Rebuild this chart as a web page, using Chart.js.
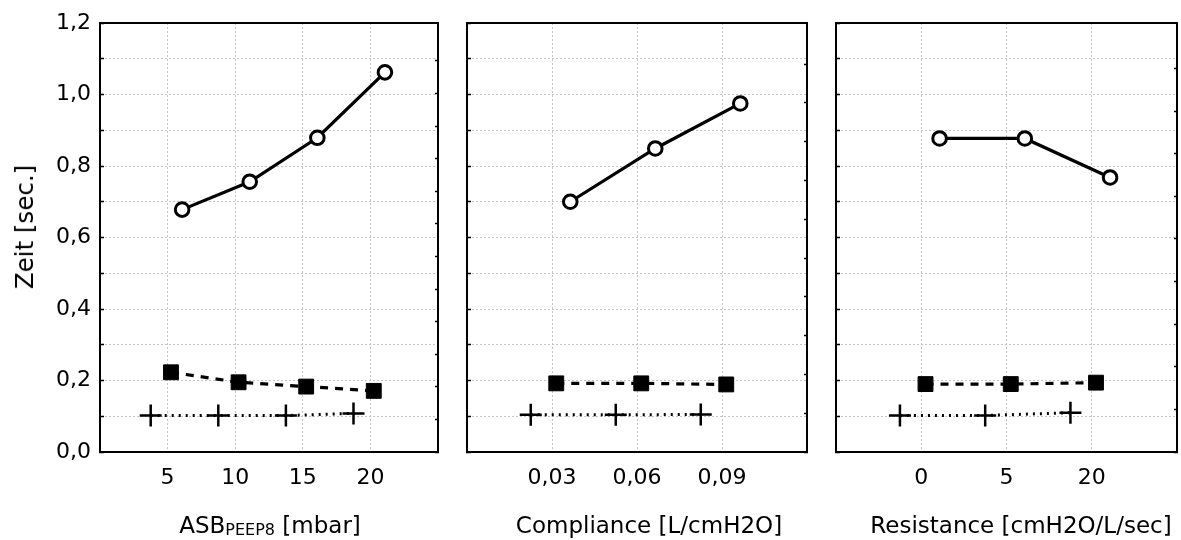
<!DOCTYPE html>
<html>
<head>
<meta charset="utf-8">
<script src="https://cdn.jsdelivr.net/npm/chart.js@4.4.1/dist/chart.umd.min.js"></script>
<style>
  body { margin: 0; background: #fff; width: 1181px; height: 540px; overflow: hidden; position: relative; font-family: "DejaVu Sans", Verdana, sans-serif; color: #000; }
  canvas { position: absolute; top: 0; }
  .xtitle { position: absolute; top: 514px; font-size: 23px; line-height: 23px; white-space: nowrap; transform: translateX(-50%); }
  .xtitle span { font-size: 16px; vertical-align: -2px; }
  .ytitle { position: absolute; left: 25px; top: 227px; font-size: 24.5px; line-height: 24px; white-space: nowrap; transform: translate(-50%, -50%) rotate(-90deg); }
</style>
</head>
<body>
<canvas id="asbChart" width="445" height="540" style="left:0px"></canvas>
<canvas id="complianceChart" width="370" height="540" style="left:445px"></canvas>
<canvas id="resistanceChart" width="366" height="540" style="left:815px"></canvas>
<div class="ytitle">Zeit [sec.]</div>
<div class="xtitle" style="left:270px">ASB<span>PEEP8</span> [mbar]</div>
<div class="xtitle" style="left:649px">Compliance [L/cmH2O]</div>
<div class="xtitle" style="left:1021px">Resistance [cmH2O/L/sec]</div>
<script>
// tick labels of the three panels
const asbLabels = ["5", "10", "15", "20"];
const complianceLabels = ["0,03", "0,06", "0,09"];
const resistanceLabels = ["0", "5", "20"];

// Zeit [sec.] per setting: circles (solid), squares (dashed), crosses (dotted)
const asbCircles = [0.678, 0.756, 0.879, 1.062];
const asbSquares = [0.223, 0.195, 0.183, 0.171];
const asbCrosses = [0.102, 0.102, 0.102, 0.108];

const complianceCircles = [0.700, 0.849, 0.975];
const complianceSquares = [0.192, 0.192, 0.189];
const complianceCrosses = [0.104, 0.104, 0.105];

const resistanceCircles = [0.877, 0.877, 0.768];
const resistanceSquares = [0.190, 0.190, 0.194];
const resistanceCrosses = [0.102, 0.102, 0.110];

Chart.defaults.font.family = "'DejaVu Sans', Verdana, sans-serif";
Chart.defaults.color = "#000";

const gridGrey = "#c4c4c4";

function toPoints(values, shift) {
    return values.map((v, i) => ({ x: i + 1 + shift, y: v }));
}

// pin each axis box so the plot frames land where the reference has them
function pin(s, w, h) {
    if (w !== null) s.width = w;
    if (h !== null) s.height = h;
    s.paddingLeft = 0;
    s.paddingRight = 0;
    s.paddingTop = 0;
    s.paddingBottom = 0;
}

function makePanel(id, labels, circles, squares, crosses, leftW, rightW, rightMax, showY) {
    let ctx = document.getElementById(id).getContext("2d");
    new Chart(ctx, {
        type: "line",
        data: {
            datasets: [
                {
                    data: toPoints(circles, 0.215),
                    borderColor: "#000",
                    borderWidth: 3.2,
                    pointStyle: "circle",
                    pointRadius: 6.8,
                    pointBorderWidth: 3,
                    pointBackgroundColor: "#fff",
                    pointBorderColor: "#000"
                },
                {
                    data: toPoints(squares, 0.05),
                    borderColor: "#000",
                    borderWidth: 3.2,
                    borderDash: [8, 7],
                    pointStyle: "rect",
                    pointRadius: 10.5,
                    pointBorderWidth: 1,
                    pointBackgroundColor: "#000",
                    pointBorderColor: "#000"
                },
                {
                    data: toPoints(crosses, -0.25),
                    borderColor: "#000",
                    borderWidth: 3,
                    borderDash: [2, 5],
                    pointStyle: "cross",
                    pointRadius: 11,
                    pointBorderWidth: 2.5,
                    pointBorderColor: "#000"
                }
            ]
        },
        options: {
            responsive: false,
            animation: false,
            devicePixelRatio: 1,
            layout: { padding: 0, autoPadding: false },
            plugins: { legend: { display: false }, tooltip: { enabled: false } },
            scales: {
                x: {
                    type: "linear",
                    position: "bottom",
                    min: 0,
                    max: labels.length + 1,
                    ticks: {
                        stepSize: 1,
                        autoSkip: false,
                        maxRotation: 0,
                        padding: 13,
                        font: { size: 22 },
                        callback: v => labels[v - 1] ?? ""
                    },
                    grid: { color: gridGrey, drawTicks: false },
                    border: { color: "#000", width: 2, dash: [2, 2] },
                    afterFit: s => pin(s, null, 88)
                },
                x2: {
                    type: "linear",
                    position: "top",
                    min: 0,
                    max: 1,
                    ticks: { display: false },
                    grid: { display: false, drawTicks: false },
                    border: { color: "#000", width: 2 },
                    afterFit: s => pin(s, null, 23)
                },
                y: {
                    min: 0,
                    max: 1.2,
                    ticks: {
                        display: showY,
                        stepSize: 0.1,
                        padding: 13,
                        font: { size: 22 },
                        callback: v => {
                            let n = Math.round(v * 10);
                            return n % 2 ? "" : (n / 10).toFixed(1).replace(".", ",");
                        }
                    },
                    grid: { color: gridGrey, tickColor: "#000", tickLength: -4, tickWidth: 1.5 },
                    border: { color: "#000", width: 2, dash: [2, 2] },
                    afterFit: s => pin(s, leftW, null)
                },
                y2: {
                    position: "right",
                    min: 0,
                    max: rightMax,
                    ticks: { display: false, stepSize: 1 },
                    grid: {
                        drawOnChartArea: false,
                        tickLength: -3,
                        tickWidth: 1.5,
                        tickColor: c => Number.isInteger(c.tick.value) ? "#000" : "rgba(0,0,0,0)"
                    },
                    border: { color: "#000", width: 2 },
                    afterFit: s => pin(s, rightW, null)
                }
            }
        }
    });
}

makePanel("asbChart", asbLabels, asbCircles, asbSquares, asbCrosses, 100, 7, 13.16, true);
makePanel("complianceChart", complianceLabels, complianceCircles, complianceSquares, complianceCrosses, 22, 8, 11.06, false);
makePanel("resistanceChart", resistanceLabels, resistanceCircles, resistanceSquares, resistanceCrosses, 21, 4, 10.07, false);
</script>
</body>
</html>
